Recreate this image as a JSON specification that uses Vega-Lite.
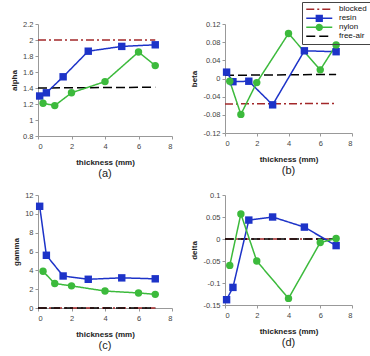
{
  "$schema": "https://vega.github.io/schema/vega-lite/v6.json",
  "padding": {"left": 10, "top": 1, "right": 2, "bottom": 2},
  "config": {
    "font": "Liberation Sans",
    "view": {"stroke": null},
    "axis": {"grid": false, "domainColor": "#999", "tickColor": "#999", "tickSize": 3, "labelFontSize": 7.5, "labelColor": "#444", "titleFontSize": 8, "titleFontWeight": "bold", "titleColor": "#222", "labelExpr": "'' + datum.value"},
    "axisX": {"labelPadding": 3, "titlePadding": 9},
    "title": {"font": "Liberation Sans", "fontSize": 11, "fontWeight": "normal", "color": "#222", "orient": "bottom", "offset": 1}
  },
  "spacing": {"row": 12, "column": 17},
  "datasets": {
    "rows": [
      {"p": "a", "s": "blocked", "x": 0, "y": 2.0}, {"p": "a", "s": "blocked", "x": 7, "y": 2.0},
      {"p": "a", "s": "free-air", "x": 0, "y": 1.40}, {"p": "a", "s": "free-air", "x": 7, "y": 1.41},
      {"p": "a", "s": "resin", "x": 0.1, "y": 1.30}, {"p": "a", "s": "resin", "x": 0.5, "y": 1.34}, {"p": "a", "s": "resin", "x": 1.5, "y": 1.54}, {"p": "a", "s": "resin", "x": 3, "y": 1.86}, {"p": "a", "s": "resin", "x": 5, "y": 1.92}, {"p": "a", "s": "resin", "x": 7, "y": 1.94},
      {"p": "a", "s": "nylon", "x": 0.3, "y": 1.21}, {"p": "a", "s": "nylon", "x": 1, "y": 1.18}, {"p": "a", "s": "nylon", "x": 2, "y": 1.34}, {"p": "a", "s": "nylon", "x": 4, "y": 1.48}, {"p": "a", "s": "nylon", "x": 6, "y": 1.85}, {"p": "a", "s": "nylon", "x": 7, "y": 1.68},
      {"p": "b", "s": "blocked", "x": 0, "y": -0.056}, {"p": "b", "s": "blocked", "x": 7, "y": -0.055},
      {"p": "b", "s": "free-air", "x": 0, "y": 0.007}, {"p": "b", "s": "free-air", "x": 7, "y": 0.009},
      {"p": "b", "s": "resin", "x": 0.1, "y": 0.014}, {"p": "b", "s": "resin", "x": 0.5, "y": -0.007}, {"p": "b", "s": "resin", "x": 1.5, "y": -0.006}, {"p": "b", "s": "resin", "x": 3, "y": -0.058}, {"p": "b", "s": "resin", "x": 5, "y": 0.061}, {"p": "b", "s": "resin", "x": 7, "y": 0.059},
      {"p": "b", "s": "nylon", "x": 0.3, "y": -0.006}, {"p": "b", "s": "nylon", "x": 1, "y": -0.079}, {"p": "b", "s": "nylon", "x": 2, "y": -0.009}, {"p": "b", "s": "nylon", "x": 4, "y": 0.099}, {"p": "b", "s": "nylon", "x": 6, "y": 0.019}, {"p": "b", "s": "nylon", "x": 7, "y": 0.074},
      {"p": "c", "s": "blocked", "x": 0, "y": 0}, {"p": "c", "s": "blocked", "x": 7, "y": 0},
      {"p": "c", "s": "free-air", "x": 0, "y": 0}, {"p": "c", "s": "free-air", "x": 7, "y": 0},
      {"p": "c", "s": "resin", "x": 0.1, "y": 10.8}, {"p": "c", "s": "resin", "x": 0.5, "y": 5.6}, {"p": "c", "s": "resin", "x": 1.5, "y": 3.4}, {"p": "c", "s": "resin", "x": 3, "y": 3.05}, {"p": "c", "s": "resin", "x": 5, "y": 3.2}, {"p": "c", "s": "resin", "x": 7, "y": 3.1},
      {"p": "c", "s": "nylon", "x": 0.3, "y": 3.9}, {"p": "c", "s": "nylon", "x": 1, "y": 2.6}, {"p": "c", "s": "nylon", "x": 2, "y": 2.35}, {"p": "c", "s": "nylon", "x": 4, "y": 1.8}, {"p": "c", "s": "nylon", "x": 6, "y": 1.6}, {"p": "c", "s": "nylon", "x": 7, "y": 1.45},
      {"p": "d", "s": "blocked", "x": 0, "y": 0}, {"p": "d", "s": "blocked", "x": 7, "y": 0},
      {"p": "d", "s": "free-air", "x": 0, "y": 0}, {"p": "d", "s": "free-air", "x": 7, "y": 0},
      {"p": "d", "s": "resin", "x": 0.1, "y": -0.138}, {"p": "d", "s": "resin", "x": 0.5, "y": -0.11}, {"p": "d", "s": "resin", "x": 1.5, "y": 0.043}, {"p": "d", "s": "resin", "x": 3, "y": 0.05}, {"p": "d", "s": "resin", "x": 5, "y": 0.027}, {"p": "d", "s": "resin", "x": 7, "y": -0.015},
      {"p": "d", "s": "nylon", "x": 0.3, "y": -0.06}, {"p": "d", "s": "nylon", "x": 1, "y": 0.057}, {"p": "d", "s": "nylon", "x": 2, "y": -0.05}, {"p": "d", "s": "nylon", "x": 4, "y": -0.135}, {"p": "d", "s": "nylon", "x": 6, "y": -0.008}, {"p": "d", "s": "nylon", "x": 7, "y": 0.001}
    ]
  },
  "columns": 2,
  "concat": [
    {
      "width": 134, "height": 112,
      "title": "(a)",
      "data": {"name": "rows"},
      "transform": [{"filter": "datum.p === 'a'"}],
      "encoding": {
        "x": {"field": "x", "type": "quantitative", "scale": {"domain": [0, 8]}, "axis": {"values": [0, 2, 4, 6, 8], "title": "thickness (mm)"}},
        "y": {"field": "y", "type": "quantitative", "scale": {"domain": [0.8, 2.2]}, "axis": {"values": [0.8, 1, 1.2, 1.4, 1.6, 1.8, 2, 2.2], "title": "alpha"}}
      },
      "layer": [
        {"mark": {"type": "line", "strokeWidth": 1.5}, "encoding": {
          "color": {"field": "s", "type": "nominal", "scale": {"domain": ["blocked", "resin", "nylon", "free-air"], "range": ["#a3282a", "#1d33c8", "#3cba3c", "#000000"]}, "legend": {"title": null, "orient": "none", "legendX": 264, "legendY": -22, "strokeColor": "#444", "padding": 3, "rowPadding": -2, "clipHeight": 8.7, "labelFontSize": 8, "labelColor": "#111", "symbolSize": 30, "labelOffset": 26,
            "encode": {"symbols": {"update": {
              "shape": {"signal": "datum.value === 'resin' ? 'M-1,0H8.5M2.7,-1.05H4.8V1.05H2.7Z' : datum.value === 'nylon' ? 'M-1,0H8.5M4.8,0A1.05,1.05,0,1,1,2.7,0A1.05,1.05,0,1,1,4.8,0' : 'M-1,0H8.5'"},
              "fill": {"signal": "datum.value === 'resin' ? '#1d33c8' : datum.value === 'nylon' ? '#3cba3c' : 'transparent'"},
              "strokeDash": {"signal": "datum.value === 'blocked' ? [5,3,2,3] : datum.value === 'free-air' ? [6,3] : [1,0]"},
              "strokeWidth": {"value": 1.5}, "opacity": {"value": 1}
            }}}}},
          "strokeDash": {"field": "s", "type": "nominal", "scale": {"domain": ["blocked", "resin", "nylon", "free-air"], "range": [[8, 3, 2, 3], [1, 0], [1, 0], [9, 4]]}, "legend": null}
        }},
        {"mark": {"type": "point", "filled": true, "opacity": 1, "size": 55}, "transform": [{"filter": "datum.s === 'resin' || datum.s === 'nylon'"}], "encoding": {
          "color": {"field": "s", "type": "nominal"},
          "shape": {"field": "s", "type": "nominal", "scale": {"domain": ["resin", "nylon"], "range": ["square", "circle"]}, "legend": null}
        }}
      ]
    },
    {
      "width": 127, "height": 109,
      "title": "(b)",
      "data": {"name": "rows"},
      "transform": [{"filter": "datum.p === 'b'"}],
      "encoding": {
        "x": {"field": "x", "type": "quantitative", "scale": {"domain": [0, 8]}, "axis": {"values": [0, 2, 4, 6, 8], "title": "thickness (mm)"}},
        "y": {"field": "y", "type": "quantitative", "scale": {"domain": [-0.12, 0.12]}, "axis": {"values": [-0.12, -0.08, -0.04, 0, 0.04, 0.08, 0.12], "title": "beta"}}
      },
      "layer": [
        {"mark": {"type": "line", "strokeWidth": 1.5}, "encoding": {
          "color": {"field": "s", "type": "nominal"},
          "strokeDash": {"field": "s", "type": "nominal", "legend": null}
        }},
        {"mark": {"type": "point", "filled": true, "opacity": 1, "size": 55}, "transform": [{"filter": "datum.s === 'resin' || datum.s === 'nylon'"}], "encoding": {
          "color": {"field": "s", "type": "nominal"},
          "shape": {"field": "s", "type": "nominal", "legend": null}
        }}
      ]
    },
    {
      "width": 134, "height": 113,
      "title": "(c)",
      "data": {"name": "rows"},
      "transform": [{"filter": "datum.p === 'c'"}],
      "encoding": {
        "x": {"field": "x", "type": "quantitative", "scale": {"domain": [0, 8]}, "axis": {"values": [0, 2, 4, 6, 8], "title": "thickness (mm)"}},
        "y": {"field": "y", "type": "quantitative", "scale": {"domain": [0, 12]}, "axis": {"values": [0, 2, 4, 6, 8, 10, 12], "title": "gamma"}}
      },
      "layer": [
        {"mark": {"type": "line", "strokeWidth": 1.5}, "encoding": {
          "color": {"field": "s", "type": "nominal"},
          "strokeDash": {"field": "s", "type": "nominal", "legend": null}
        }},
        {"mark": {"type": "point", "filled": true, "opacity": 1, "size": 55}, "transform": [{"filter": "datum.s === 'resin' || datum.s === 'nylon'"}], "encoding": {
          "color": {"field": "s", "type": "nominal"},
          "shape": {"field": "s", "type": "nominal", "legend": null}
        }}
      ]
    },
    {
      "width": 127, "height": 110,
      "title": "(d)",
      "data": {"name": "rows"},
      "transform": [{"filter": "datum.p === 'd'"}],
      "encoding": {
        "x": {"field": "x", "type": "quantitative", "scale": {"domain": [0, 8]}, "axis": {"values": [0, 2, 4, 6, 8], "title": "thickness (mm)"}},
        "y": {"field": "y", "type": "quantitative", "scale": {"domain": [-0.15, 0.1]}, "axis": {"values": [-0.15, -0.1, -0.05, 0, 0.05, 0.1], "title": "delta"}}
      },
      "layer": [
        {"mark": {"type": "line", "strokeWidth": 1.5}, "encoding": {
          "color": {"field": "s", "type": "nominal"},
          "strokeDash": {"field": "s", "type": "nominal", "legend": null}
        }},
        {"mark": {"type": "point", "filled": true, "opacity": 1, "size": 55}, "transform": [{"filter": "datum.s === 'resin' || datum.s === 'nylon'"}], "encoding": {
          "color": {"field": "s", "type": "nominal"},
          "shape": {"field": "s", "type": "nominal", "legend": null}
        }}
      ]
    }
  ]
}
